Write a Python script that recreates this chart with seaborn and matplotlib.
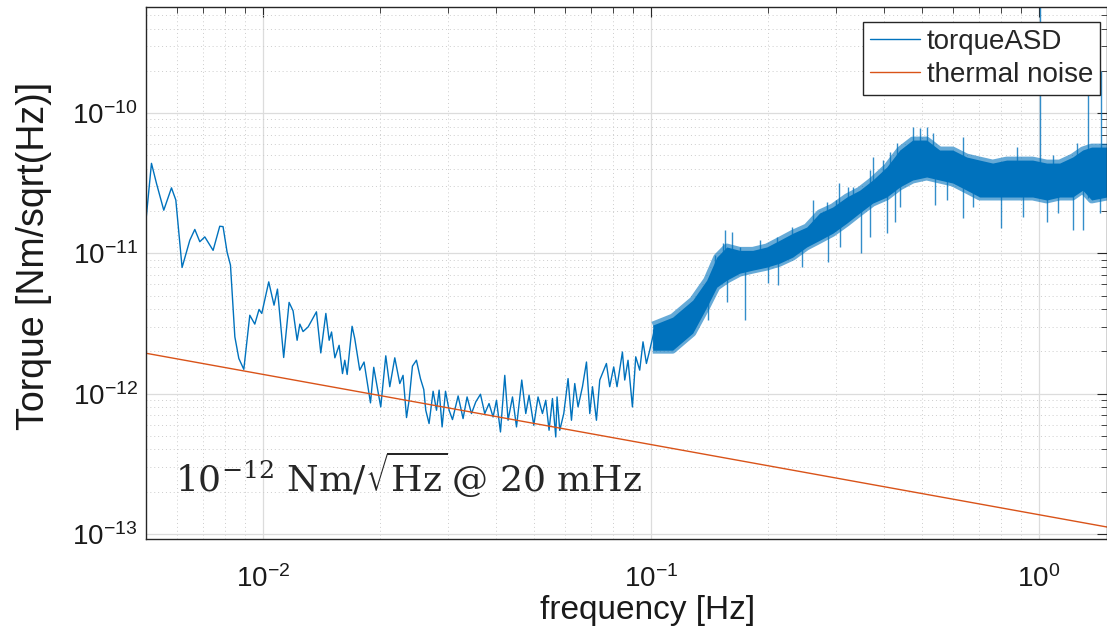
"""Torque amplitude spectral density compared with the thermal noise floor."""

import matplotlib.pyplot as plt
import seaborn as sns
from matplotlib.ticker import LogLocator, NullFormatter

# low-frequency part of torqueASD, traced point by point  [Hz], [Nm/sqrt(Hz)]
ASD_FREQ = [
    0.00500, 0.005165, 0.005321, 0.005556, 0.005816, 0.005968, 0.006194, 0.006485,
    0.006680, 0.006881, 0.007088, 0.007446, 0.007746, 0.007899, 0.008091, 0.008255,
    0.008472, 0.008675, 0.008935, 0.009258, 0.009537, 0.00978, 0.00994, 0.01036,
    0.01069, 0.01091, 0.01132, 0.01169, 0.01197, 0.01226, 0.01246, 0.01270,
    0.01309, 0.01375, 0.01411, 0.01454, 0.01483, 0.01504, 0.01534, 0.01573,
    0.01605, 0.01627, 0.01650, 0.01699, 0.01726, 0.01778, 0.01824, 0.01895,
    0.01932, 0.01982, 0.02014, 0.02075, 0.02125, 0.02189, 0.02255, 0.02299,
    0.02347, 0.02383, 0.02431, 0.02489, 0.02549, 0.02600, 0.02631, 0.02683,
    0.02748, 0.02804, 0.02848, 0.02899, 0.02958, 0.03022, 0.03083, 0.03188,
    0.03283, 0.03362, 0.03451, 0.03540, 0.03640, 0.03734, 0.03830, 0.03923,
    0.04003, 0.04099, 0.04205, 0.04288, 0.04402, 0.04508, 0.04651, 0.04763,
    0.04857, 0.04995, 0.05123, 0.05259, 0.05363, 0.05469, 0.05581, 0.05691,
    0.05735, 0.05828, 0.05968, 0.06122, 0.06247, 0.06370, 0.06496, 0.06668,
    0.06829, 0.06965, 0.07077, 0.07245, 0.07389, 0.07687, 0.07839, 0.08027,
    0.08186, 0.08453, 0.08570, 0.08739, 0.08970, 0.09148, 0.09367, 0.09552,
    0.09747, 0.0994, 0.1024, 0.1044,
]
ASD_VALUE = [
    1.73e-11, 4.38e-11, 3.15e-11, 2.03e-11, 2.93e-11, 2.40e-11, 7.93e-12, 1.24e-11,
    1.48e-11, 1.21e-11, 1.31e-11, 1.05e-11, 1.56e-11, 1.55e-11, 1.02e-11, 8.24e-12,
    2.54e-12, 1.78e-12, 1.49e-12, 3.62e-12, 3.13e-12, 3.98e-12, 3.73e-12, 6.26e-12,
    4.27e-12, 5.56e-12, 1.81e-12, 4.47e-12, 3.89e-12, 2.40e-12, 3.13e-12, 2.77e-12,
    2.99e-12, 3.83e-12, 1.95e-12, 3.73e-12, 2.40e-12, 2.75e-12, 1.80e-12, 2.21e-12,
    1.39e-12, 1.73e-12, 1.37e-12, 3.02e-12, 2.47e-12, 1.47e-12, 1.68e-12, 8.59e-13,
    1.54e-12, 1.03e-12, 8.04e-13, 1.86e-12, 1.12e-12, 1.80e-12, 1.18e-12, 1.35e-12,
    6.75e-13, 8.97e-13, 1.57e-12, 1.73e-12, 1.28e-12, 1.07e-12, 7.61e-13, 6.12e-13,
    1.04e-12, 7.61e-13, 1.06e-12, 5.79e-13, 1.04e-12, 7.61e-13, 6.53e-13, 9.63e-13,
    6.64e-13, 9.47e-13, 7.21e-13, 8.73e-13, 9.90e-13, 7.21e-13, 8.50e-13, 6.82e-13,
    8.97e-13, 5.33e-13, 1.35e-12, 6.46e-13, 9.47e-13, 5.79e-13, 1.25e-12, 7.21e-13,
    9.74e-13, 5.95e-13, 9.47e-13, 7.21e-13, 8.97e-13, 5.48e-13, 9.23e-13, 4.91e-13,
    9.47e-13, 5.48e-13, 7.21e-13, 1.28e-12, 6.46e-13, 1.18e-12, 8.04e-13, 1.12e-12,
    1.68e-12, 7.21e-13, 1.12e-12, 6.46e-13, 1.25e-12, 1.64e-12, 1.12e-12, 1.55e-12,
    1.12e-12, 1.98e-12, 1.25e-12, 1.73e-12, 8.04e-13, 1.83e-12, 1.47e-12, 2.34e-12,
    1.64e-12, 2.04e-12, 2.91e-12, 2.15e-12,
]

# dense part above ~0.1 Hz, read as the upper and lower edge of the solid band
BAND_FREQ = [
    0.1012, 0.1139, 0.1283, 0.1394, 0.1480, 0.1570, 0.1696, 0.1832, 0.1991,
    0.2150, 0.2323, 0.2524, 0.2726, 0.2945, 0.3200, 0.3457, 0.3734, 0.4057,
    0.4384, 0.4733, 0.5144, 0.5556, 0.6004, 0.6521, 0.7047, 0.7610, 0.8269,
    0.8933, 0.9649, 1.0486, 1.1328, 1.2236, 1.2985, 1.369, 1.5,
]
BAND_UPPER = [
    3.08e-12, 3.51e-12, 4.64e-12, 6.44e-12, 9.40e-12, 1.11e-11, 1.05e-11, 1.05e-11, 1.11e-11,
    1.24e-11, 1.39e-11, 1.54e-11, 1.94e-11, 2.14e-11, 2.52e-11, 2.82e-11, 3.33e-11, 4.12e-11,
    5.45e-11, 6.42e-11, 6.42e-11, 5.45e-11, 5.45e-11, 4.86e-11, 4.62e-11, 4.40e-11, 4.62e-11,
    4.62e-11, 4.62e-11, 4.40e-11, 4.40e-11, 4.86e-11, 5.45e-11, 5.72e-11, 5.72e-11,
]
BAND_LOWER = [
    2.04e-12, 2.04e-12, 2.70e-12, 4.13e-12, 5.74e-12, 6.44e-12, 7.22e-12, 7.59e-12, 7.97e-12,
    8.51e-12, 9.40e-12, 1.11e-11, 1.24e-11, 1.39e-11, 1.64e-11, 1.94e-11, 2.28e-11, 2.52e-11,
    2.97e-11, 3.33e-11, 3.50e-11, 3.33e-11, 3.17e-11, 2.82e-11, 2.52e-11, 2.52e-11, 2.52e-11,
    2.52e-11, 2.52e-11, 2.40e-11, 2.52e-11, 2.52e-11, 2.82e-11, 2.40e-11, 2.52e-11,
]

# single spikes that stick out of the band (upward ones first, then downward)
SPIKE_FREQ = [
    0.1012, 0.1113, 0.1299, 0.1462, 0.1533, 0.1551, 0.1617, 0.1696, 0.1910, 0.2112,
    0.2309, 0.2616, 0.2841, 0.3010, 0.3051, 0.3219, 0.3316, 0.3668, 0.3734, 0.3962,
    0.4130, 0.4305, 0.4733, 0.4935, 0.5144, 0.5331, 0.6370, 0.8776, 1.0868, 1.2527,
    0.1402, 0.1570, 0.1747, 0.2002, 0.2125, 0.2449, 0.2859, 0.3070, 0.3478, 0.3668,
    0.4057, 0.4254, 0.4384, 0.5395, 0.5794, 0.6370, 0.6761, 0.7980, 0.9095, 1.0486,
    1.1194, 1.2236, 1.2985, 1.436,
    1.006, 1.340, 1.445,
]
SPIKE_LOW = [
    2.1e-12, 2.2e-12, 3.2e-12, 6.0e-12, 7.0e-12, 7.0e-12, 8.0e-12, 8.0e-12, 9.0e-12, 1.0e-11,
    1.1e-11, 1.4e-11, 1.6e-11, 1.8e-11, 1.9e-11, 2.1e-11, 2.3e-11, 2.7e-11, 2.8e-11, 3.2e-11,
    3.5e-11, 4.0e-11, 5.0e-11, 5.0e-11, 5.0e-11, 5.0e-11, 4.0e-11, 4.0e-11, 3.5e-11, 4.0e-11,
    3.34e-12, 4.49e-12, 3.34e-12, 6.13e-12, 5.93e-12, 7.97e-12, 8.65e-12, 1.11e-11, 1.00e-11, 1.30e-11,
    1.39e-11, 1.67e-11, 2.14e-11, 2.21e-11, 2.40e-11, 1.78e-11, 2.14e-11, 1.51e-11, 1.81e-11, 1.67e-11,
    1.94e-11, 1.46e-11, 1.46e-11, 1.94e-11,
    4.0e-11, 2.5e-11, 4.0e-11,
]
SPIKE_HIGH = [
    2.88e-12, 3.18e-12, 4.64e-12, 9.71e-12, 1.18e-11, 1.46e-11, 1.42e-11, 1.11e-11, 1.24e-11, 1.30e-11,
    1.54e-11, 2.40e-11, 2.32e-11, 2.40e-11, 3.17e-11, 2.97e-11, 2.97e-11, 3.92e-11, 4.86e-11, 4.62e-11,
    5.27e-11, 6.11e-11, 7.95e-11, 7.82e-11, 7.95e-11, 7.20e-11, 6.74e-11, 5.72e-11, 5.02e-11, 6.11e-11,
    5.0e-12, 7.0e-12, 8.0e-12, 9.0e-12, 1.0e-11, 1.2e-11, 1.5e-11, 1.8e-11, 2.2e-11, 2.6e-11,
    3.0e-11, 3.5e-11, 3.5e-11, 4.0e-11, 4.0e-11, 3.5e-11, 3.5e-11, 3.3e-11, 3.3e-11, 3.3e-11,
    3.3e-11, 3.3e-11, 3.5e-11, 3.5e-11,
    1.0e-9, 2.0e-10, 2.0e-10,
]

THERMAL_FREQ = [0.005, 1.5]
THERMAL_VALUE = [1.94e-12, 1.12e-13]

ASD_COLOR = "#0072BD"
THERMAL_COLOR = "#D95319"
AXIS_COLOR = "#262626"


def main() -> None:
    sns.set_style("white")
    plt.rcParams["font.family"] = ["Liberation Sans", "DejaVu Sans"]
    plt.rcParams["mathtext.fontset"] = "custom"
    plt.rcParams["mathtext.rm"] = "Liberation Sans"

    fig = plt.figure(figsize=(11.07, 6.31), dpi=100)
    ax = fig.add_axes([146 / 1107, 92 / 631, 961 / 1107, 532 / 631])

    sns.lineplot(x=ASD_FREQ, y=ASD_VALUE, ax=ax, color=ASD_COLOR, lw=1.0,
                 estimator=None, sort=False, label="torqueASD")
    ax.fill_between(BAND_FREQ, BAND_LOWER, BAND_UPPER, color=ASD_COLOR, lw=0)
    # slightly soft edges of the dense band
    for edge in (BAND_UPPER, BAND_LOWER):
        ax.plot(BAND_FREQ, edge, color=ASD_COLOR, lw=5.0, alpha=0.6,
                solid_joinstyle="round", solid_capstyle="butt")
    ax.vlines(SPIKE_FREQ, SPIKE_LOW, SPIKE_HIGH, color=ASD_COLOR, lw=1.0, alpha=0.8)
    sns.lineplot(x=THERMAL_FREQ, y=THERMAL_VALUE, ax=ax, color=THERMAL_COLOR, lw=1.0,
                 estimator=None, sort=False, label="thermal noise")

    ax.set_xscale("log")
    ax.set_yscale("log")
    ax.set_xlim(0.005, 1.5)
    ax.set_ylim(9.2e-14, 5.7e-10)

    for axis in (ax.xaxis, ax.yaxis):
        axis.set_major_locator(LogLocator(base=10, numticks=20))
        axis.set_minor_locator(LogLocator(base=10, subs=range(2, 10), numticks=100))
        axis.set_minor_formatter(NullFormatter())

    ax.set_axisbelow(True)
    ax.grid(which="major", color="#dcdcdc", lw=0.9, ls="-")
    ax.grid(which="minor", color="#cccccc", lw=0.7, ls=(0, (1, 3)))

    ax.tick_params(which="both", direction="in", top=True, right=True,
                   color=AXIS_COLOR, labelcolor="#1a1a1a", labelsize=20)
    ax.tick_params(which="major", length=7, width=0.8)
    ax.tick_params(which="minor", length=4, width=0.6)
    ax.tick_params(axis="x", which="major", pad=19)
    ax.tick_params(axis="y", which="major", pad=6)
    for spine in ax.spines.values():
        spine.set_color(AXIS_COLOR)
        spine.set_linewidth(1.0)

    ax.set_xlabel("frequency [Hz]", fontsize=24, color="#1a1a1a")
    ax.set_ylabel("Torque [Nm/sqrt(Hz)]", fontsize=27, color="#1a1a1a", va="center")
    ax.xaxis.set_label_coords(0.522, -0.105)
    ax.yaxis.set_label_coords(-0.117, 0.532)

    ax.text(0.03, 0.088,
            r"$10^{-12}\ \mathrm{Nm}/\sqrt{\mathrm{Hz}}\,\mathrm{@\ 20\ mHz}$",
            transform=ax.transAxes, fontsize=26, color="#262626",
            math_fontfamily="dejavuserif", ha="left", va="baseline")

    legend = ax.legend(loc="upper right", bbox_to_anchor=(1 - 7 / 961, 1 - 15 / 532),
                       borderaxespad=0, fontsize=20, frameon=True, fancybox=False,
                       edgecolor=AXIS_COLOR, framealpha=1, handlelength=1.8,
                       handletextpad=0.25, borderpad=0.25, labelspacing=0.25)
    legend.get_frame().set_linewidth(1.0)

    fig.savefig("out.png", dpi=100)
    plt.close(fig)


if __name__ == "__main__":
    main()
